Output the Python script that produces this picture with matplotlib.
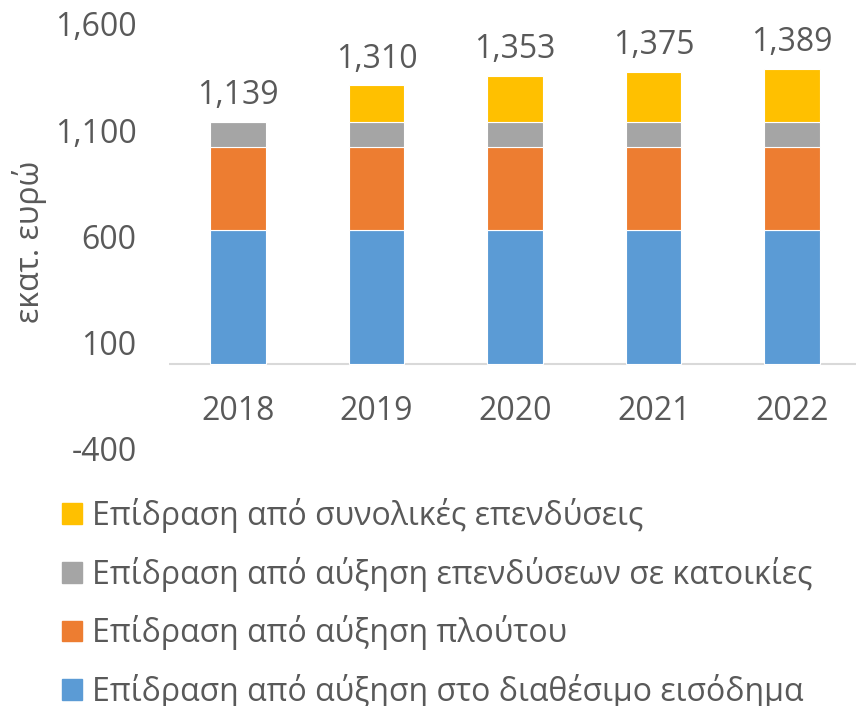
import matplotlib.pyplot as plt
from matplotlib.patches import Patch
from matplotlib.ticker import FuncFormatter

# data
years = ["2018", "2019", "2020", "2021", "2022"]
income = [628, 628, 628, 628, 628]       # διαθέσιμο εισόδημα
wealth = [391, 391, 391, 391, 391]       # πλούτος
housing = [120, 120, 120, 120, 120]      # επενδύσεις σε κατοικίες
invest = [0, 171, 214, 236, 250]         # συνολικές επενδύσεις
totals = [1139, 1310, 1353, 1375, 1389]

labels = [
    "Επίδραση από αύξηση στο διαθέσιμο εισόδημα",
    "Επίδραση από αύξηση πλούτου",
    "Επίδραση από αύξηση επενδύσεων σε κατοικίες",
    "Επίδραση από συνολικές επενδύσεις",
]
colors = ["#5B9BD5", "#ED7D31", "#A5A5A5", "#FFC000"]
txt = "#595959"
fs = 23

plt.rcParams["font.family"] = ["Open Sans", "DejaVu Sans"]
plt.rcParams["font.size"] = fs
plt.rcParams["text.color"] = txt

fig = plt.figure(figsize=(8.56, 7.06), dpi=100)
ax = fig.add_axes([168.6 / 856, 1 - 449 / 706, 692.9 / 856, 425.2 / 706])

x = range(len(years))
bottom = [0] * len(years)
for vals, col in zip([income, wealth, housing, invest], colors):
    ax.bar(x, vals, 0.4, bottom=bottom, color=col, edgecolor="white", linewidth=0.8)
    bottom = [b + v for b, v in zip(bottom, vals)]

for i, t in enumerate(totals):
    ax.annotate(f"{t:,}", (i, t), xytext=(0, 19), textcoords="offset points",
                ha="center", va="center", fontsize=fs, color=txt)

ax.set_xlim(-0.5, len(years) - 0.5)
ax.set_ylim(-400, 1600)
ax.set_yticks([-400, 100, 600, 1100, 1600])
ax.yaxis.set_major_formatter(FuncFormatter(lambda v, p: f"{v:,.0f}"))
ax.set_xticks(list(x))
# category labels sit just below the zero line (Excel style)
ax.set_xticklabels(years, y=0.128, color=txt)

for s in ["top", "right", "left", "bottom"]:
    ax.spines[s].set_visible(False)
ax.axhline(0, color="#D9D9D9", linewidth=1.5, zorder=0)
ax.tick_params(axis="both", length=0, labelcolor=txt, labelsize=fs)
ax.tick_params(axis="y", pad=23)
ax.tick_params(axis="x", pad=0)

fig.text(30 / 856, 1 - 242 / 706, "εκατ. ευρώ", rotation=90,
         ha="center", va="center", fontsize=fs, color=txt)

handles = [Patch(color=c) for c in colors][::-1]
fig.legend(handles, labels[::-1], loc="upper left",
           bbox_to_anchor=(62 / 856, 1 - 498 / 706), frameon=False,
           handlelength=0.62, handleheight=0.62, handletextpad=0.33,
           labelspacing=0.74, borderaxespad=0, borderpad=0, fontsize=fs)

fig.savefig("out.png", dpi=100)
